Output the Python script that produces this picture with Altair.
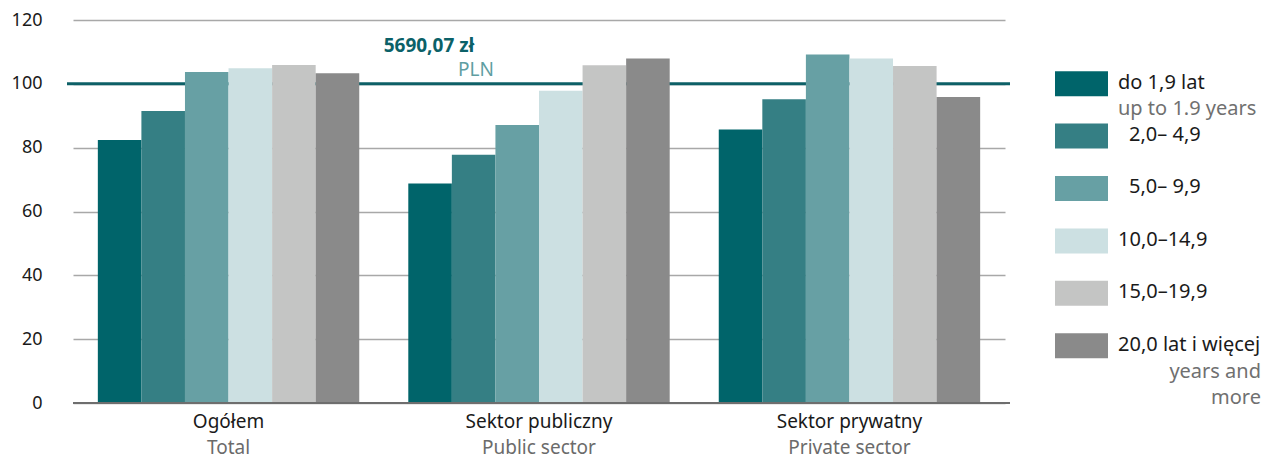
import altair as alt
import pandas as pd

# ---- data ----
categories = ["Ogółem", "Sektor publiczny", "Sektor prywatny"]
categories_en = ["Total", "Public sector", "Private sector"]
groups = ["do 1,9 lat", "2,0– 4,9", "5,0– 9,9", "10,0–14,9", "15,0–19,9", "20,0 lat i więcej"]
legend_indent = [False, True, True, False, False, False]
values_total = [82.4, 91.5, 103.7, 104.9, 105.9, 103.3]
values_public = [68.8, 77.8, 87.1, 97.8, 105.8, 107.9]
values_private = [85.7, 95.2, 109.2, 107.9, 105.6, 95.9]
colors = ["#00646a", "#357f84", "#67a0a4", "#cce0e2", "#c4c5c4", "#8a8a8a"]
reference_value = 100
reference_label = "5690,07 zł"
reference_unit = "PLN"
y_ticks = [0, 20, 40, 60, 80, 100, 120]

FONT = "Noto Sans"
W, H = 932, 383
LW = 206

rows = []
for cat, vals in zip(categories, [values_total, values_public, values_private]):
    for g, v in zip(groups, vals):
        rows.append({"category": cat, "group": g, "value": v})
df = pd.DataFrame(rows)
cat_df = pd.DataFrame({"category": categories, "en": categories_en})

xscale = alt.Scale(domain=categories, paddingInner=0.158, paddingOuter=0.08)
color_scale = alt.Scale(domain=groups, range=colors)

bars = alt.Chart(df).mark_bar().encode(
    x=alt.X("category:N", sort=categories, scale=xscale, axis=None),
    xOffset=alt.XOffset("group:N", sort=groups, scale=alt.Scale(domain=groups, paddingInner=0, paddingOuter=0)),
    y=alt.Y("value:Q", scale=alt.Scale(domain=[0, 120], nice=False),
            axis=alt.Axis(values=y_ticks, title=None, ticks=False, domain=False,
                          labelFontSize=18, labelColor="#1a1a1a", labelPadding=31,
                          labelFont=FONT, grid=True, gridColor="#a8a8a8", gridWidth=1.5)),
    color=alt.Color("group:N", scale=color_scale, legend=None),
)

ref_df = pd.DataFrame({"y": [reference_value]})
ref_line = alt.Chart(ref_df).mark_rule(color="#0d6067", strokeWidth=3).encode(
    y=alt.Y("y:Q"), x=alt.value(-6), x2=alt.value(W + 5))

zero_df = pd.DataFrame({"y": [0]})
zero_line = alt.Chart(zero_df).mark_rule(color="#6e6e6e", strokeWidth=2).encode(
    y=alt.Y("y:Q"), x=alt.value(0), x2=alt.value(W + 5))

ann1 = alt.Chart(ref_df).mark_text(text=reference_label, fontSize=19, fontWeight="bold",
                                   color="#0b6168", font=FONT, baseline="middle", dy=-38).encode(
    y=alt.Y("y:Q"), x=alt.value(356))
ann2 = alt.Chart(ref_df).mark_text(text=reference_unit, fontSize=19, color="#5f9ea2",
                                   font=FONT, baseline="middle", dy=-14).encode(
    y=alt.Y("y:Q"), x=alt.value(403))

cat_text = alt.Chart(cat_df).mark_text(fontSize=19, font=FONT, color="#1a1a1a",
                                       baseline="alphabetic").encode(
    x=alt.X("category:N", sort=categories, scale=xscale, axis=None),
    y=alt.value(H + 25), text="category:N")
cat_text_en = alt.Chart(cat_df).mark_text(fontSize=19, font=FONT, color="#6b6b6b",
                                          baseline="alphabetic").encode(
    x=alt.X("category:N", sort=categories, scale=xscale, axis=None),
    y=alt.value(H + 51), text="en:N")

main = alt.layer(ref_line, bars, zero_line, ann1, ann2, cat_text, cat_text_en).properties(
    width=W, height=H)

# ---- legend panel ----
leg_df = pd.DataFrame({"group": groups, "idx": list(range(len(groups))), "indent": legend_indent})
sub_df = pd.DataFrame({"idx": [0], "sub": ["up to 1.9 years"]})
sub_df_a = pd.DataFrame({"idx": [5], "sub": ["years and"]})
sub_df_b = pd.DataFrame({"idx": [5], "sub": ["more"]})
yleg = alt.Scale(domain=[-1.2156, 6.094], reverse=True, nice=False, zero=False)
yenc = alt.Y("idx:Q", scale=yleg, axis=None)

swatch = alt.Chart(leg_df).mark_point(
    shape="M-1,-0.472H1V0.472H-1Z", filled=True, opacity=1, size=2809, strokeWidth=0
).encode(
    x=alt.value(26.5), y=yenc,
    color=alt.Color("group:N", scale=color_scale, legend=None),
)
text_style = dict(align="left", baseline="middle", fontSize=20, font=FONT, color="#1a1a1a", dy=-1)
leg_text = alt.Chart(leg_df).transform_filter("!datum.indent").mark_text(**text_style).encode(
    x=alt.value(63), y=yenc, text="group:N")
leg_text_ind = alt.Chart(leg_df).transform_filter("datum.indent").mark_text(**text_style).encode(
    x=alt.value(74), y=yenc, text="group:N")
sub_style = dict(baseline="middle", fontSize=20, font=FONT, color="#707070")
leg_sub = alt.Chart(sub_df).mark_text(align="left", dy=25, **sub_style).encode(
    x=alt.value(63), y=yenc, text="sub:N")
leg_sub_a = alt.Chart(sub_df_a).mark_text(align="right", dy=26, **sub_style).encode(
    x=alt.value(LW), y=yenc, text="sub:N")
leg_sub_b = alt.Chart(sub_df_b).mark_text(align="right", dy=52, **sub_style).encode(
    x=alt.value(LW), y=yenc, text="sub:N")

legend = alt.layer(swatch, leg_text, leg_text_ind, leg_sub, leg_sub_a, leg_sub_b).properties(
    width=LW, height=H)

chart = alt.hconcat(main, legend, spacing=50, bounds="flush").properties(
    padding={"left": 3, "top": 3, "right": 0, "bottom": 60}
).configure(font=FONT).configure_view(strokeWidth=0, strokeOpacity=0)

chart.save("out.html", embed_options={"renderer": "svg", "actions": False})
